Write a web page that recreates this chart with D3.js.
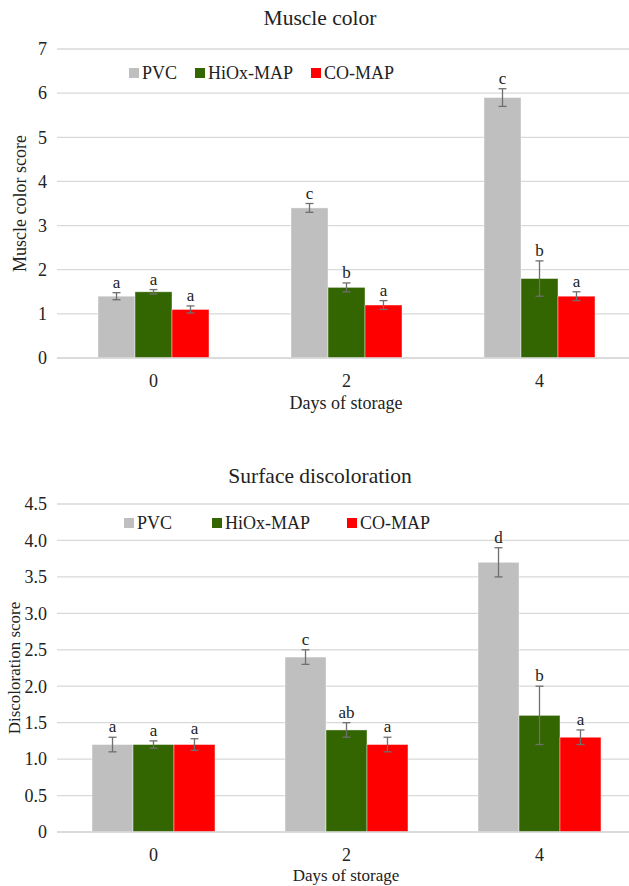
<!DOCTYPE html>
<html>
<head>
<meta charset="utf-8">
<script src="https://cdn.jsdelivr.net/npm/d3@7"></script>
<style>
  body { margin: 0; background: #fff; }
  svg text { font-family: "Liberation Serif", "Times New Roman", serif; fill: #222; }
</style>
</head>
<body>
<svg id="chart" width="629" height="886"></svg>
<script>
// Shared categories
const days = ["0", "2", "4"];
const series = ["PVC", "HiOx-MAP", "CO-MAP"];
const colors = ["#bfbfbf", "#336600", "#ff0000"];

// Muscle color (top panel)
const muscleValues = [
  [1.4, 3.4, 5.9],   // PVC
  [1.5, 1.6, 1.8],   // HiOx-MAP
  [1.1, 1.2, 1.4]    // CO-MAP
];
const muscleErrors = [
  [0.08, 0.1, 0.2],
  [0.05, 0.1, 0.4],
  [0.08, 0.1, 0.1]
];
const muscleLetters = [
  ["a", "c", "c"],
  ["a", "b", "b"],
  ["a", "a", "a"]
];
const muscleTicks = [0, 1, 2, 3, 4, 5, 6, 7];

// Surface discoloration (bottom panel)
const discValues = [
  [1.2, 2.4, 3.7],
  [1.2, 1.4, 1.6],
  [1.2, 1.2, 1.3]
];
const discErrors = [
  [0.1, 0.1, 0.2],
  [0.05, 0.1, 0.4],
  [0.08, 0.1, 0.1]
];
const discLetters = [
  ["a", "c", "d"],
  ["a", "ab", "b"],
  ["a", "a", "a"]
];
const discTicks = [0, 0.5, 1.0, 1.5, 2.0, 2.5, 3.0, 3.5, 4.0, 4.5];

const svg = d3.select("#chart");
const W = +svg.attr("width");

function drawPanel(cfg) {
  const g = svg.append("g");

  const y = d3.scaleLinear().domain(cfg.domain).range([cfg.bottom, cfg.top]);
  const x0 = d3.scaleBand().domain(days).range([57, 636])
    .paddingInner(cfg.padInner).paddingOuter(cfg.padInner / 2);
  const x1 = d3.scaleBand().domain(series).range([0, x0.bandwidth()]);

  // gridlines
  g.selectAll(".grid").data(cfg.ticks).join("line")
    .attr("x1", 57).attr("x2", W)
    .attr("y1", d => y(d)).attr("y2", d => y(d))
    .attr("stroke", "#d9d9d9").attr("stroke-width", 1.3);

  // y tick labels
  g.selectAll(".ytick").data(cfg.ticks).join("text")
    .attr("x", 47).attr("y", d => y(d)).attr("dy", "0.35em")
    .attr("text-anchor", "end").style("font-size", "18px")
    .text(d => d === 0 ? "0" : cfg.fmt(d));

  // bars
  series.forEach((s, si) => {
    const vals = cfg.values[si];
    const errs = cfg.errors[si];
    const bars = g.append("g");
    bars.selectAll("rect").data(days).join("rect")
      .attr("x", d => x0(d) + x1(s))
      .attr("width", x1.bandwidth())
      .attr("y", (d, i) => y(vals[i]))
      .attr("height", (d, i) => y(0) - y(vals[i]))
      .attr("fill", colors[si])
      .attr("stroke", "#ffffff").attr("stroke-opacity", 0.5).attr("stroke-width", 0.8);

    const eb = g.append("g").attr("stroke", "#6f6f6f").attr("stroke-width", 1.3);
    days.forEach((d, i) => {
      const cx = x0(d) + x1(s) + x1.bandwidth() / 2;
      const hi = y(vals[i] + errs[i]), lo = y(vals[i] - errs[i]);
      eb.append("line").attr("x1", cx).attr("x2", cx).attr("y1", hi).attr("y2", lo);
      eb.append("line").attr("x1", cx - 4).attr("x2", cx + 4).attr("y1", hi).attr("y2", hi);
      eb.append("line").attr("x1", cx - 4).attr("x2", cx + 4).attr("y1", lo).attr("y2", lo);
      g.append("text")
        .attr("x", cx).attr("y", hi - 5)
        .attr("text-anchor", "middle").style("font-size", "17px")
        .text(cfg.letters[si][i]);
    });
  });

  // baseline
  g.append("line").attr("x1", 57).attr("x2", W)
    .attr("y1", y(0)).attr("y2", y(0))
    .attr("stroke", "#d9d9d9").attr("stroke-width", 1.3);

  // x tick labels
  g.selectAll(".xtick").data(days).join("text")
    .attr("x", d => x0(d) + x0.bandwidth() / 2)
    .attr("y", cfg.bottom + 29)
    .attr("text-anchor", "middle").style("font-size", "18px")
    .text(d => d);

  // titles
  g.append("text").attr("x", 320).attr("y", cfg.titleY)
    .attr("text-anchor", "middle").style("font-size", "21.5px").text(cfg.title);
  g.append("text").attr("x", 346).attr("y", cfg.xLabelY)
    .attr("text-anchor", "middle").style("font-size", cfg.labelSize).text("Days of storage");
  g.append("text")
    .attr("transform", `translate(${cfg.yLabelX},${(cfg.top + cfg.bottom) / 2}) rotate(-90)`)
    .attr("text-anchor", "middle").attr("dy", "0.35em").style("font-size", cfg.labelSize)
    .text(cfg.yLabel);

  // legend
  const lg = g.append("g");
  series.forEach((s, si) => {
    const lx = cfg.legendX[si];
    lg.append("rect").attr("x", lx).attr("y", cfg.legendY - 11)
      .attr("width", 10).attr("height", 10).attr("fill", colors[si]);
    lg.append("text").attr("x", lx + 13).attr("y", cfg.legendY)
      .style("font-size", "18px").text(s);
  });
}

drawPanel({
  title: "Muscle color", titleY: 25,
  yLabel: "Muscle color score", yLabelX: 20,
  xLabelY: 409, labelSize: "18px",
  domain: [0, 7], ticks: muscleTicks, fmt: d3.format("d"),
  top: 49, bottom: 358,
  padInner: 0.425,
  values: muscleValues, errors: muscleErrors, letters: muscleLetters,
  legendX: [129, 195, 311], legendY: 79
});

drawPanel({
  title: "Surface discoloration", titleY: 483,
  yLabel: "Discoloration score", yLabelX: 14,
  xLabelY: 881, labelSize: "17px",
  domain: [0, 4.5], ticks: discTicks, fmt: d3.format(".1f"),
  top: 504, bottom: 832,
  padInner: 0.363,
  values: discValues, errors: discErrors, letters: discLetters,
  legendX: [124, 212, 347], legendY: 529
});
</script>
</body>
</html>
